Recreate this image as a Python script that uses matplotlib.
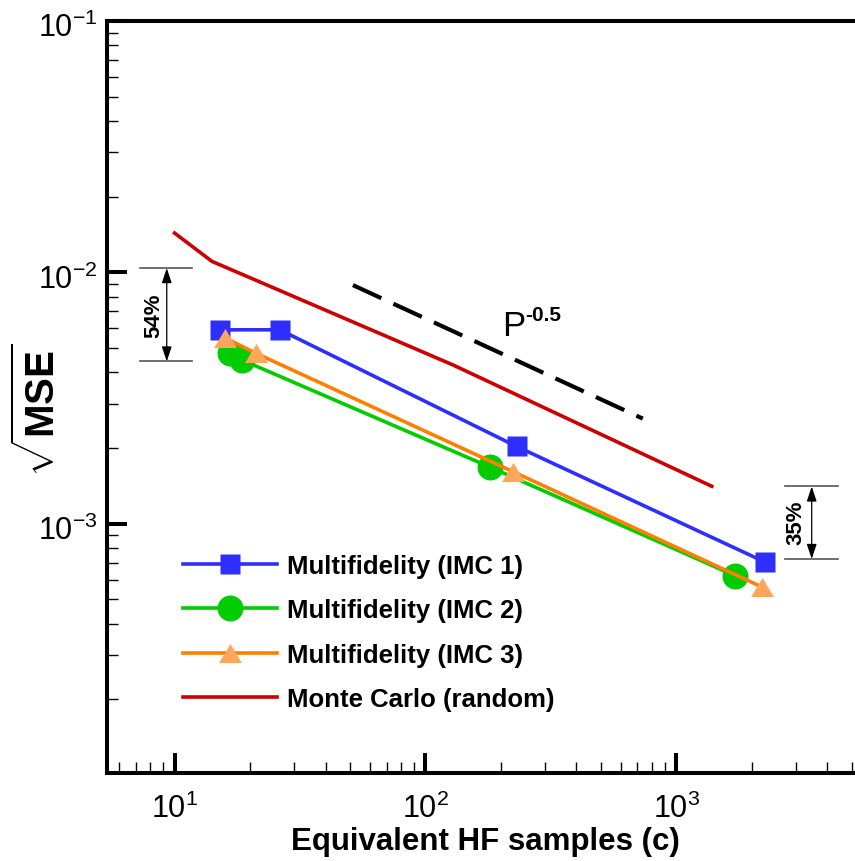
import numpy as np
import matplotlib
matplotlib.use('Agg')
import matplotlib.pyplot as plt
from matplotlib.ticker import LogLocator, FuncFormatter, NullFormatter
from matplotlib.transforms import ScaledTranslation

plt.rcParams['font.family'] = ['Liberation Sans', 'DejaVu Sans']
plt.rcParams['mathtext.fontset'] = 'custom'
plt.rcParams['mathtext.rm'] = 'Liberation Sans'
plt.rcParams['mathtext.it'] = 'Liberation Sans:italic'
plt.rcParams['mathtext.bf'] = 'Liberation Sans:bold'

# ---------------- data ----------------
imc1_x = [15.2, 26.3, 231, 2257]
imc1_y = [0.00591, 0.00591, 0.00203, 0.000704]
imc2_x = [16.6, 18.5, 181, 1713]
imc2_y = [0.00477, 0.00449, 0.00168, 0.000622]
imc3_x = [15.9, 21.1, 224, 2189]
imc3_y = [0.00549, 0.00477, 0.00161, 0.000561]
mc_x = [10, 14.1, 129, 1384]
mc_y = [0.01434, 0.01106, 0.00428, 0.00141]
ref_x = [51.4, 735]
ref_y = [0.0089, 0.00262]
series_labels = ['Multifidelity (IMC 1)', 'Multifidelity (IMC 2)',
                 'Multifidelity (IMC 3)', 'Monte Carlo (random)']
xlabel = 'Equivalent HF samples (c)'
ylabel = r'$\sqrt{\mathbf{MSE}}$'
slope_label = 'P'
slope_exp = '-0.5'
gain_labels = ['54%', '35%']

# ---------------- figure ----------------
W, H = 855, 862
fig = plt.figure(figsize=(W / 100, H / 100), dpi=100)
ax = fig.add_axes([107 / W, 88 / H, 756 / W, 752 / H])
ax.set_xscale('log')
ax.set_yscale('log')
ax.set_xlim(5.38, 5546)
ax.set_ylim(1.02e-4, 1e-1)

blue = '#2E2EFF'
green = '#00CC00'
orange = '#FF8000'
orange_m = '#FFA65A'
red = '#CC0000'
lw = 2.6

tri = [(0, 0.5), (-0.6, -0.5), (0.6, -0.5)]

ax.plot(imc1_x, imc1_y, color=blue, lw=lw, marker='s', ms=14.4,
        mec='none', mfc=blue, label=series_labels[0])
ax.plot(imc2_x, imc2_y, color=green, lw=lw, marker='o', ms=18.7,
        mec='none', mfc=green, label=series_labels[1])
ax.plot(imc3_x, imc3_y, color=orange, lw=lw, marker=tri, ms=16.5,
        mec='none', mfc=orange_m, label=series_labels[2])
ax.plot(mc_x, mc_y, color=red, lw=lw, label=series_labels[3])

# reference slope line
ax.plot(ref_x, ref_y, color='black', lw=3, linestyle=(0, (7.5, 3.2)),
        solid_capstyle='butt', dash_capstyle='butt')
ax.text(201.4, 0.005644, slope_label, fontsize=25, ha='left', va='baseline')
ax.annotate(slope_exp, xy=(201.4, 0.005644), xytext=(16.8, 10.8),
            textcoords='offset points', fontsize=15, fontweight='bold',
            ha='left', va='baseline')

# gain brackets
def bracket(x0, x1, xa, y_top, y_bot, xt, yt, txt):
    ax.plot([x0, x1], [y_top, y_top], color='#555555', lw=1.2)
    ax.plot([x0, x1], [y_bot, y_bot], color='#555555', lw=1.2)
    ax.annotate('', xy=(xa, y_top), xytext=(xa, y_bot),
                arrowprops=dict(arrowstyle='<|-|>,head_length=0.6,head_width=0.2',
                                color='black', lw=0.9, shrinkA=0, shrinkB=0,
                                mutation_scale=15))
    ax.text(xt, yt, txt, rotation=90, fontsize=16, fontweight='bold',
            ha='center', va='center')

bracket(7.29, 11.71, 9.31, 0.01040, 0.004423, 8.3, 0.00678, gain_labels[0])
bracket(2712, 4422, 3464, 0.001407, 0.0007244, 3010, 0.00102, gain_labels[1])

# ---------------- axes styling ----------------
for s in ax.spines.values():
    s.set_linewidth(2.9)

def fmt(v, p):
    e = int(round(np.log10(v)))
    if e <= -4:
        return ''
    return r'$\mathregular{10^{%d}}$' % e

for axis in (ax.xaxis, ax.yaxis):
    axis.set_major_locator(LogLocator(base=10, numticks=20))
    axis.set_minor_locator(LogLocator(base=10, subs=np.arange(2, 10), numticks=50))
    axis.set_minor_formatter(NullFormatter())
    axis.set_major_formatter(FuncFormatter(fmt))

ax.tick_params(which='major', direction='in', length=14.4, width=2.9,
               labelsize=22, top=False, right=False)
ax.tick_params(which='minor', direction='in', length=8, width=1.0,
               top=False, right=False)
ax.tick_params(axis='x', which='major', pad=14)
ax.tick_params(axis='y', which='major', pad=7)

ax.set_xlabel(xlabel, fontsize=22.5, fontweight='bold')
ax.xaxis.set_label_coords(0.5, -0.071)
ax.set_ylabel(ylabel, fontsize=29)
ax.yaxis.set_label_coords(-0.058, 0.484)

ax.legend(loc='upper left', bbox_to_anchor=(182.7 / W, 1 - 555 / H),
          bbox_transform=fig.transFigure, frameon=False,
          prop={'weight': 'bold', 'size': 18.5}, handlelength=3.66,
          handletextpad=0.39, labelspacing=0.79, borderpad=0,
          borderaxespad=0, numpoints=1)

# shift y tick labels slightly down so the "10" is centred on the tick
fig.canvas.draw()
off = ScaledTranslation(0, -3 / 100, fig.dpi_scale_trans)
for t in ax.yaxis.get_major_ticks():
    t.label1.set_transform(t.label1.get_transform() + off)

fig.savefig('out.png', dpi=100)
